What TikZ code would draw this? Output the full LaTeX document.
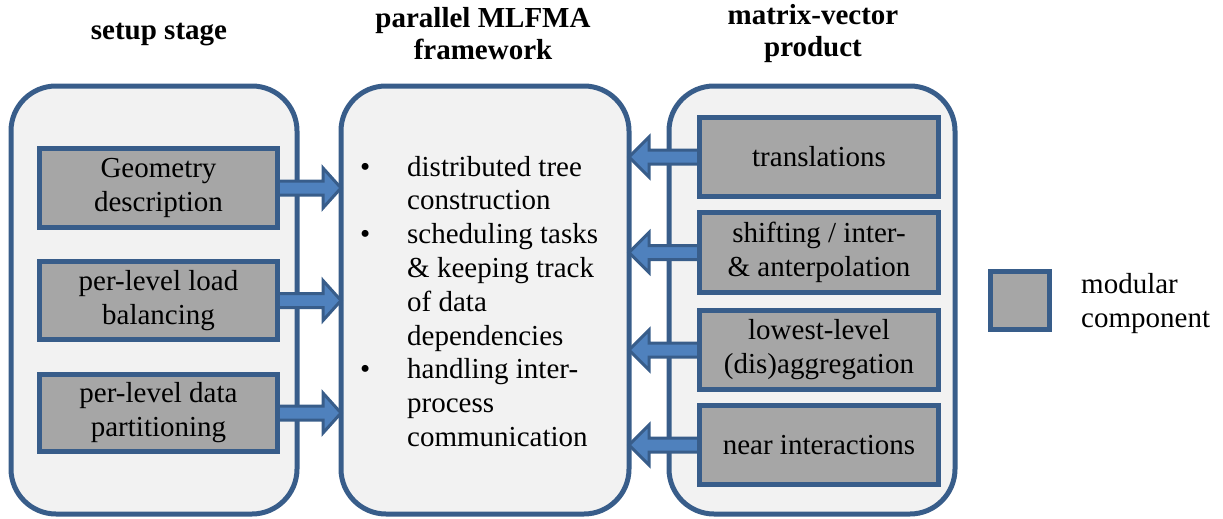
\documentclass[tikz,border=0pt]{standalone}
\usepackage{fontspec}
\setmainfont{LiberationSerif}[Extension=.ttf, UprightFont=*-Regular, BoldFont=*-Bold, ItalicFont=*-Italic, BoldItalicFont=*-BoldItalic]
\usepackage{array}
\usetikzlibrary{calc}
\definecolor{bord}{HTML}{385D8A}
\definecolor{arrfill}{HTML}{4F81BD}
\definecolor{boxfill}{HTML}{A6A6A6}
\definecolor{contfill}{HTML}{F2F2F2}
\tikzset{
  container/.style={draw=bord, line width=5pt, fill=contfill, rounded corners=45pt, inner sep=0pt, outer sep=0pt},
  modbox/.style={draw=bord, line width=5pt, fill=boxfill, inner sep=0pt, outer sep=0pt, align=center, font=\fontsize{29}{34}\selectfont},
  title/.style={font=\fontsize{29}{32}\selectfont\bfseries, align=center, inner sep=0pt},
  blockarr/.style={draw=bord, line width=3pt, fill=arrfill, line join=miter},
}
\newcommand\arrright[2]{%
  \draw[blockarr] ($(#1)+(0,-7)$) -- ($(#2)+(-18,-7)$) -- ($(#2)+(-18,-20)$) -- (#2)
    -- ($(#2)+(-18,20)$) -- ($(#2)+(-18,7)$) -- ($(#1)+(0,7)$) -- cycle;}
\newcommand\arrleft[2]{%
  \draw[blockarr] ($(#1)+(0,-7)$) -- ($(#2)+(20,-7)$) -- ($(#2)+(20,-20)$) -- (#2)
    -- ($(#2)+(20,20)$) -- ($(#2)+(20,7)$) -- ($(#1)+(0,7)$) -- cycle;}
\begin{document}
\begin{tikzpicture}[x=1pt,y=-1pt]
\useasboundingbox (0,0) rectangle (1223,519);
% titles
\node[title] (t1) at (159,35) {setup stage};
\node[title] (t2) at (483,34) {parallel MLFMA\\framework};
\node[title] (t3) at (813,34) {matrix-vector\\product};
% containers
\node[container, minimum width=286pt, minimum height=428pt] (L) at (154,300) {};
\node[container, minimum width=288pt, minimum height=428pt] (M) at (485,300) {};
\node[container, minimum width=286pt, minimum height=428pt] (R) at (812,300) {};
% middle text
\node[anchor=base west, inner sep=0pt, font=\fontsize{29}{33.8}\selectfont] (mtxt) at (360,176)
 {\begin{tabular}[t]{@{}p{47pt}@{}>{\raggedright\arraybackslash}p{220pt}@{}}
  \textbullet & distributed tree\\
   & construction\\
  \textbullet & scheduling tasks\\
   & \& keeping track\\
   & of data\\
   & dependencies\\
  \textbullet & handling inter-\\
   & process\\
   & communication
  \end{tabular}};
% left boxes (positions)
\coordinate (gpos) at (158.5,188);
\coordinate (lpos) at (158.5,300.5);
\coordinate (ppos) at (158.5,413);
\node[modbox, minimum width=238pt, minimum height=79pt, draw=none, fill=none] (G) at (gpos) {};
\node[modbox, minimum width=238pt, minimum height=78pt, draw=none, fill=none] (LB) at (lpos) {};
\node[modbox, minimum width=238pt, minimum height=77pt, draw=none, fill=none] (P) at (ppos) {};
% right boxes (positions)
\node[modbox, minimum width=239pt, minimum height=79pt, draw=none, fill=none] (T) at (819,157) {};
\node[modbox, minimum width=239pt, minimum height=80pt, draw=none, fill=none] (S) at (819,252.5) {};
\node[modbox, minimum width=239pt, minimum height=79pt, draw=none, fill=none] (A) at (819,350) {};
\node[modbox, minimum width=239pt, minimum height=79pt, draw=none, fill=none] (N) at (819,445) {};
% arrows
\arrright{G.east}{M.west |- G.east}
\arrright{LB.east}{M.west |- LB.east}
\arrright{P.east}{M.west |- P.east}
\arrleft{T.west}{M.east |- T.west}
\arrleft{S.west}{M.east |- S.west}
\arrleft{A.west}{M.east |- A.west}
\arrleft{N.west}{M.east |- N.west}
% visible boxes
\node[modbox, minimum width=238pt, minimum height=79pt] (Gb) at (gpos) {Geometry\\description};
\node[modbox, minimum width=238pt, minimum height=78pt] (LBb) at (lpos) {per-level load\\balancing};
\node[modbox, minimum width=238pt, minimum height=77pt] (Pb) at (ppos) {per-level data\\partitioning};
\node[modbox, minimum width=239pt, minimum height=79pt] (Tb) at (T) {translations};
\node[modbox, minimum width=239pt, minimum height=80pt] (Sb) at (S) {shifting / inter-\\\& anterpolation};
\node[modbox, minimum width=239pt, minimum height=79pt] (Ab) at (A) {lowest-level\\(dis)aggregation};
\node[modbox, minimum width=239pt, minimum height=79pt] (Nb) at (N) {near interactions};
% legend
\node[modbox, minimum width=59pt, minimum height=58pt] (leg) at (1020,300.5) {};
\node[anchor=west, align=left, inner sep=0pt, font=\fontsize{29}{34}\selectfont] (legtxt) at (1081,304) {modular\\component};
\end{tikzpicture}
\end{document}
